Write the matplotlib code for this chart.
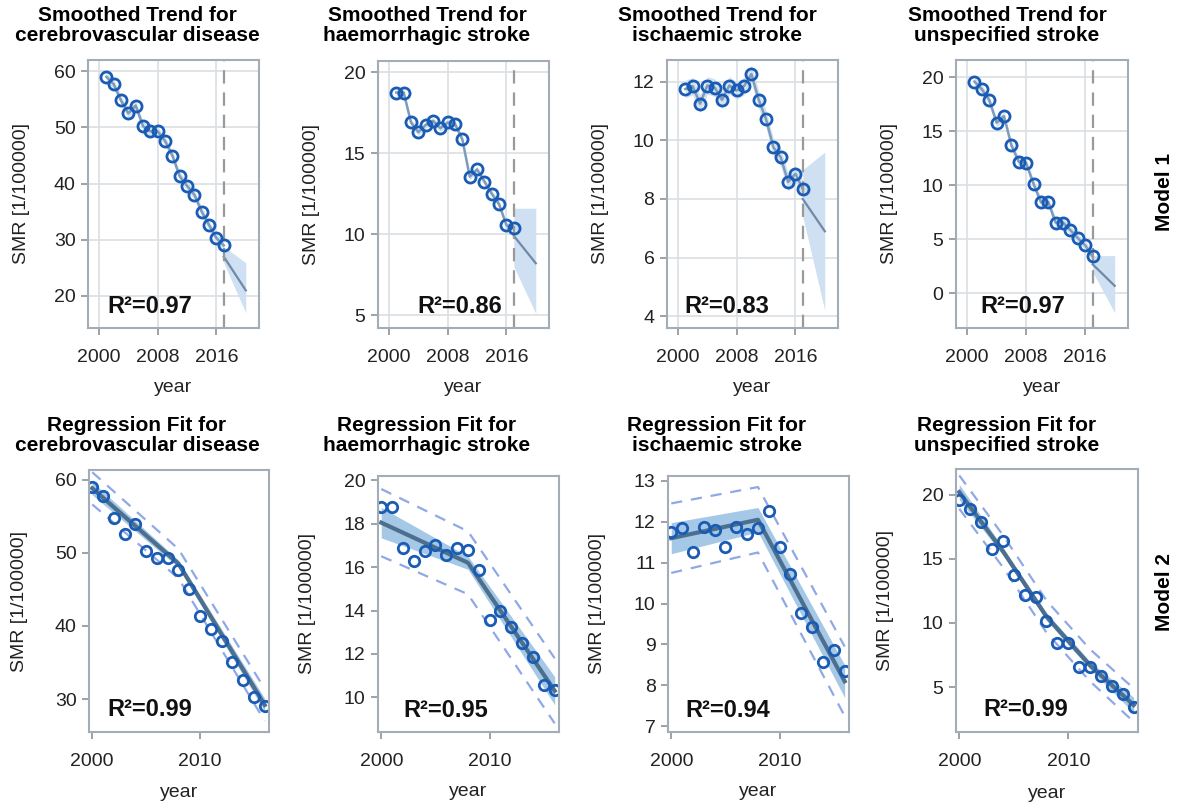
import numpy as np
import matplotlib
matplotlib.use("Agg")
import matplotlib.pyplot as plt

plt.rcParams['font.family'] = ['Liberation Sans', 'DejaVu Sans']

# ---------------- data ----------------
diseases = ["cerebrovascular disease", "haemorrhagic stroke",
            "ischaemic stroke", "unspecified stroke"]

years_m1 = list(range(2001, 2018))   # model 1 (smoothed trend)
years_m2 = list(range(2000, 2017))   # model 2 (regression fit)

smr_cvd = [59.0, 57.7, 54.8, 52.5, 53.9, 50.2, 49.3, 49.3, 47.6, 45.0,
           41.3, 39.6, 38.0, 35.0, 32.6, 30.3, 29.0]
smr_haem = [18.75, 18.75, 16.9, 16.3, 16.75, 17.0, 16.55, 16.9, 16.8, 15.85,
            13.55, 14.0, 13.25, 12.5, 11.85, 10.55, 10.35]
smr_isch = [11.75, 11.85, 11.25, 11.87, 11.8, 11.38, 11.87, 11.7, 11.85, 12.26,
            11.38, 10.72, 9.76, 9.42, 8.58, 8.86, 8.34]
smr_unsp = [19.6, 18.9, 17.9, 15.8, 16.4, 13.7, 12.2, 12.05, 10.15, 8.45,
            8.45, 6.55, 6.55, 5.85, 5.12, 4.45, 3.42]
smr_all = [smr_cvd, smr_haem, smr_isch, smr_unsp]

# smoothing band half width (model 1)
smooth_hw = [0.8, 0.2, 0.3, 0.4]

# forecast (model 1)
fc_years = [2017, 2020]
fc_mean = [[27.0, 21.0], [9.9, 8.2], [8.0, 6.9], [2.7, 0.7]]
fc_low = [[25.9, 17.0], [8.0, 5.1], [7.4, 4.2], [2.0, -1.8]]
fc_up = [[28.8, 25.9], [11.6, 11.6], [9.0, 9.6], [3.5, 3.5]]
r2_m1 = ["0.97", "0.86", "0.83", "0.97"]

# regression fit (model 2)
fit_years = [[2000, 2008, 2016], [2000, 2008, 2016],
             [2000, 2008, 2016], [2000, 2004, 2008, 2012, 2016]]
fit_vals = [[58.8, 48.5, 29.2], [18.05, 16.2, 10.3],
            [11.6, 12.05, 8.1], [20.2, 15.6, 10.5, 6.7, 3.6]]
ci_hw = [[0.9, 0.5, 0.9], [0.7, 0.3, 0.65],
         [0.38, 0.3, 0.4], [0.6, 0.3, 0.3, 0.3, 0.6]]
pi_hw = [[2.2, 2.0, 2.2], [1.55, 1.45, 1.5],
         [0.85, 0.8, 0.85], [1.3, 1.25, 1.25, 1.25, 1.3]]
r2_m2 = ["0.99", "0.95", "0.94", "0.99"]

yticks_m1 = [[20, 30, 40, 50, 60], [5, 10, 15, 20], [4, 6, 8, 10, 12], [0, 5, 10, 15, 20]]
ylim_m1 = [(14.3, 62), (4.2, 20.7), (3.6, 12.74), (-3.2, 21.6)]
yticks_m2 = [[30, 40, 50, 60], [10, 12, 14, 16, 18, 20], [7, 8, 9, 10, 11, 12, 13], [5, 10, 15, 20]]
ylim_m2 = [(25.5, 61.3), (8.4, 20.2), (6.86, 13.12), (1.5, 22.0)]

# ---------------- layout ----------------
W, H = 1188, 809
fig = plt.figure(figsize=(W / 100, H / 100), dpi=100)

def px_axes(l, t, r, b):
    return fig.add_axes([l / W, 1 - b / H, (r - l) / W, (b - t) / H])

top_boxes = [(88, 60, 259, 328), (378, 61, 549, 328), (667, 60, 838, 328), (956, 60, 1128, 328)]
bot_boxes = [(89, 470, 269, 732), (378, 476, 559, 732), (668, 476, 849, 732), (956, 469, 1138, 732)]
title_x = [137, 427, 717, 1007]
r2_x1 = [0.36, 0.48, 0.35, 0.39]
r2_x2 = [0.34, 0.375, 0.33, 0.385]

spine_c = "#a3adb8"
pt_c = "#1a5cb4"
grid_c = "#dcdfe3"

def style(ax, pady):
    for s in ax.spines.values():
        s.set_color(spine_c)
        s.set_linewidth(1.5)
    ax.tick_params(colors="#8a929a", labelcolor="#222222", labelsize=14, length=5, width=1.2)
    ax.tick_params(axis="x", pad=pady)
    ax.tick_params(axis="y", pad=4)
    ax.set_ylabel("SMR [1/100000]", fontsize=14, color="#222222")
    ax.yaxis.set_label_coords(-0.34, 0.5)
    ax.set_xlabel("year", fontsize=14, color="#222222")

r2_font = dict(family=['Liberation Sans Narrow', 'Liberation Sans'], fontsize=17,
               fontweight="bold", color="#111111")

for i in range(4):
    # ---- model 1: smoothed trend ----
    ax = px_axes(*top_boxes[i])
    y = np.array(smr_all[i])
    ax.grid(True, color=grid_c, lw=1.2)
    ax.set_axisbelow(True)
    ax.fill_between(years_m1, y - smooth_hw[i], y + smooth_hw[i], color="#d3e2f1", lw=0)
    ax.plot(years_m1, y, color="#7d9cbd", lw=1.8)
    ax.fill_between(fc_years, fc_low[i], fc_up[i], color="#cfe0f2", lw=0)
    ax.plot(fc_years, fc_mean[i], color="#6f8aa6", lw=1.6)
    ax.axvline(years_m1[-1], color="#9a9a9a", lw=1.6, ls=(0, (6, 4)))
    ax.plot(years_m1, y, "o", ms=8, mfc="none", mec=pt_c, mew=2)
    ax.set_xlim(1998.5, 2021.8)
    ax.set_xticks([2000, 2008, 2016])
    ax.set_ylim(*ylim_m1[i])
    ax.set_yticks(yticks_m1[i])
    style(ax, 10)
    ax.xaxis.set_label_coords(0.5, -0.19)
    ax.text(r2_x1[i], 0.08, "R²=" + r2_m1[i], transform=ax.transAxes,
            ha="center", va="center", **r2_font)
    fig.text(title_x[i] / W, 1 - 6 / H, "Smoothed Trend for\n" + diseases[i],
             ha="center", va="top", fontsize=15, fontweight="bold", linespacing=1.05)

    # ---- model 2: regression fit ----
    ax = px_axes(*bot_boxes[i])
    fx = np.array(fit_years[i])
    fv = np.array(fit_vals[i])
    ci = np.array(ci_hw[i])
    pi = np.array(pi_hw[i])
    ax.fill_between(fx, fv - ci, fv + ci, color="#5b9bd5", alpha=0.55, lw=0)
    ax.plot(fx, fv, color="#4d6f8e", lw=3)
    ax.plot(fx, fv + pi, color="#8fa8e6", lw=1.6, ls=(0, (5, 4)))
    ax.plot(fx, fv - pi, color="#8fa8e6", lw=1.6, ls=(0, (5, 4)))
    ax.plot(years_m2, smr_all[i], "o", ms=7.5, mfc="none", mec=pt_c, mew=2)
    ax.set_xlim(1999.7, 2016.4)
    ax.set_xticks([2000, 2010])
    ax.set_ylim(*ylim_m2[i])
    ax.set_yticks(yticks_m2[i])
    style(ax, 10)
    ax.xaxis.set_label_coords(0.5, -0.2)
    ax.text(r2_x2[i], 0.085, "R²=" + r2_m2[i], transform=ax.transAxes,
            ha="center", va="center", **r2_font)
    fig.text(title_x[i] / W, 1 - 416 / H, "Regression Fit for\n" + diseases[i],
             ha="center", va="top", fontsize=15, fontweight="bold", linespacing=1.05)

fig.text(1165 / W, 1 - 192 / H, "Model 1", rotation=90, ha="center", va="center",
         fontsize=15, fontweight="bold")
fig.text(1165 / W, 1 - 592 / H, "Model 2", rotation=90, ha="center", va="center",
         fontsize=15, fontweight="bold")

fig.savefig("out.png", dpi=100)
